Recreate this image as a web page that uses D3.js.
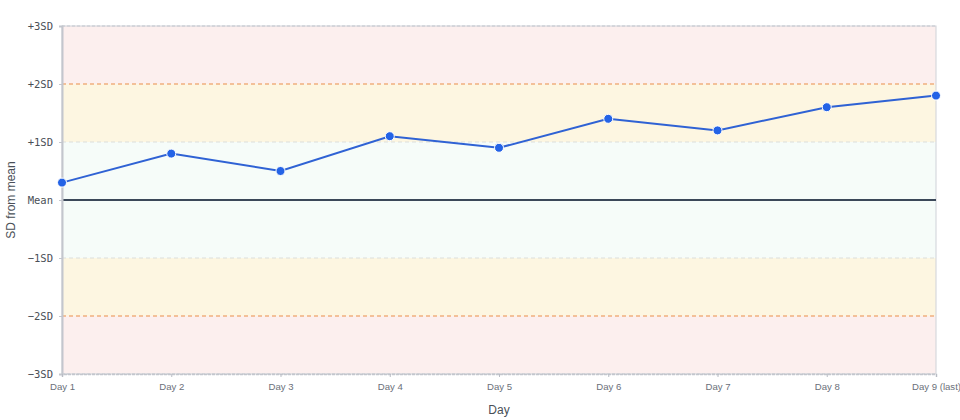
<!DOCTYPE html>
<html>
<head>
<meta charset="utf-8">
<script src="https://cdn.jsdelivr.net/npm/d3@7"></script>
<style>
  body { margin: 0; background: #fff; }
  svg { display: block; }
</style>
</head>
<body>
<div class="page"></div>
<script>
// chart data
var days = ['Day 1', 'Day 2', 'Day 3', 'Day 4', 'Day 5', 'Day 6', 'Day 7', 'Day 8', 'Day 9 (last)'];
var sdValues = [0.3, 0.8, 0.5, 1.1, 0.9, 1.4, 1.2, 1.6, 1.8];
var sdTicks = [-3, -2, -1, 0, 1, 2, 3];
var sdTickLabels = ['\u22123SD', '\u22122SD', '\u22121SD', 'Mean', '+1SD', '+2SD', '+3SD'];
var bands = [
  {from: 2, to: 3, fill: '#fcefee'},
  {from: 1, to: 2, fill: '#fdf6e1'},
  {from: -1, to: 1, fill: '#f6fcf9'},
  {from: -2, to: -1, fill: '#fdf6e1'},
  {from: -3, to: -2, fill: '#fcefee'}
];

var container_dim = {width: 960, height: 420},
    margins = {top: 26, right: 24, bottom: 46, left: 62},
    chart_dim = {
      width: container_dim.width - margins.left - margins.right,
      height: container_dim.height - margins.top - margins.bottom
    };

var xScale = d3.scalePoint()
  .domain(days)
  .range([0, chart_dim.width]);

var yScale = d3.scaleLinear()
  .domain([-3, 3])
  .range([chart_dim.height, 0]);

var svg = d3.select('.page').append('svg')
  .attr('width', container_dim.width)
  .attr('height', container_dim.height);

var plot = svg.append('g')
  .attr('transform', 'translate(' + margins.left + ',' + margins.top + ')');

// background bands
plot.selectAll('rect.band').data(bands)
  .enter()
  .append('rect')
  .attr('class', 'band')
  .attr('x', 0)
  .attr('width', chart_dim.width)
  .attr('y', function(d) { return yScale(d.to); })
  .attr('height', function(d) { return yScale(d.from) - yScale(d.to); })
  .attr('fill', function(d) { return d.fill; });

// frame
plot.append('rect')
  .attr('width', chart_dim.width)
  .attr('height', chart_dim.height)
  .attr('fill', 'none')
  .attr('stroke', '#cfd2d8')
  .attr('stroke-width', 1);

// reference lines
plot.selectAll('line.ref').data(sdTicks.filter(function(d) { return d !== 0; }))
  .enter()
  .append('line')
  .attr('class', 'ref')
  .attr('x1', 0)
  .attr('x2', chart_dim.width)
  .attr('y1', function(d) { return yScale(d); })
  .attr('y2', function(d) { return yScale(d); })
  .attr('stroke', function(d) {
    if (Math.abs(d) === 2) return '#efb07f';
    if (Math.abs(d) === 1) return '#dcdedc';
    return '#c4c7cf';
  })
  .attr('stroke-width', function(d) { return Math.abs(d) === 2 ? 1.5 : 1.2; })
  .attr('stroke-dasharray', function(d) { return Math.abs(d) === 3 ? '3,2' : '4,3'; });

plot.append('line')
  .attr('x1', 0)
  .attr('x2', chart_dim.width)
  .attr('y1', yScale(0))
  .attr('y2', yScale(0))
  .attr('stroke', '#3b4859')
  .attr('stroke-width', 2);

// axes
var yAxis = d3.axisLeft(yScale)
  .tickValues(sdTicks)
  .tickFormat(function(d, i) { return sdTickLabels[i]; })
  .tickSize(3)
  .tickPadding(6);

var xAxis = d3.axisBottom(xScale)
  .tickSize(3)
  .tickPadding(6);

var gy = plot.append('g')
  .attr('id', 'y-axis')
  .call(yAxis);
gy.select('.domain').attr('stroke', '#c3c6cd').attr('stroke-width', 2);
gy.selectAll('.tick line').attr('stroke', '#c3c6cd');
gy.selectAll('.tick text')
  .style('font-family', '"DejaVu Sans Mono", monospace')
  .style('font-size', '10.5px')
  .attr('fill', '#4a4f57');

var gx = plot.append('g')
  .attr('id', 'x-axis')
  .attr('transform', 'translate(0,' + chart_dim.height + ')')
  .call(xAxis);
gx.select('.domain').attr('stroke', '#c3c6cd').attr('stroke-width', 1.5).attr('stroke-dasharray', '3,1');
gx.selectAll('.tick line').attr('stroke', '#b9bcc4');
gx.selectAll('.tick text')
  .style('font-family', '"Liberation Sans", Arial, sans-serif')
  .style('font-size', '9.6px')
  .attr('fill', '#6b707a');

// axis titles
svg.append('text')
  .text('Day')
  .attr('x', margins.left + chart_dim.width / 2)
  .attr('y', 414)
  .attr('text-anchor', 'middle')
  .style('font-family', '"Liberation Sans", Arial, sans-serif')
  .style('font-size', '12px')
  .attr('fill', '#4a4f57');

svg.append('text')
  .text('SD from mean')
  .attr('transform', 'translate(15,' + (margins.top + yScale(0)) + ') rotate(-90)')
  .attr('text-anchor', 'middle')
  .style('font-family', '"Liberation Sans", Arial, sans-serif')
  .style('font-size', '12px')
  .attr('fill', '#4a4f57');

// series
var line = d3.line()
  .x(function(d, i) { return xScale(days[i]); })
  .y(function(d) { return yScale(d); });

plot.append('path')
  .datum(sdValues)
  .attr('d', line)
  .attr('fill', 'none')
  .attr('stroke', '#2f62d4')
  .attr('stroke-width', 2);

plot.selectAll('circle.pt').data(sdValues)
  .enter()
  .append('circle')
  .attr('class', 'pt')
  .attr('cx', function(d, i) { return xScale(days[i]); })
  .attr('cy', function(d) { return yScale(d); })
  .attr('r', 4.5)
  .attr('fill', '#2463e6')
  .attr('stroke', '#fff')
  .attr('stroke-width', 1);
</script>
</body>
</html>
